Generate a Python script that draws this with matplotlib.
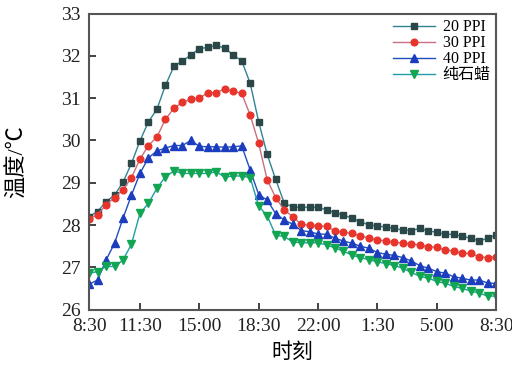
import numpy as np
import matplotlib
matplotlib.use("Agg")
import matplotlib.pyplot as plt

# time axis: hours after 8:30, one reading every half hour
hours = np.arange(0, 24.5, 0.5)
tick_pos = [0, 3, 6.5, 10, 13.5, 17, 20.5, 24]
tick_labels = ["8:30", "11:30", "15:00", "18:30", "22:00", "1:30", "5:00", "8:30"]

ppi20 = [28.2, 28.32, 28.55, 28.71, 29.01, 29.46, 29.99, 30.44, 30.74, 31.3,
         31.75, 31.88, 32.02, 32.17, 32.2, 32.25, 32.18, 32.02, 31.88, 31.35,
         30.44, 29.67, 29.08, 28.53, 28.42, 28.42, 28.42, 28.42, 28.36, 28.29,
         28.24, 28.16, 28.08, 28.0, 27.98, 27.95, 27.92, 27.88, 27.87, 27.92,
         27.86, 27.83, 27.78, 27.78, 27.73, 27.69, 27.62, 27.69, 27.77]
ppi30 = [28.15, 28.24, 28.48, 28.65, 28.83, 29.12, 29.56, 29.88, 30.08, 30.5,
         30.76, 30.9, 30.97, 31.0, 31.13, 31.13, 31.22, 31.16, 31.11, 30.6,
         29.93, 29.07, 28.65, 28.36, 28.2, 28.02, 27.99, 27.98, 27.97, 27.86,
         27.83, 27.8, 27.75, 27.69, 27.65, 27.62, 27.59, 27.57, 27.55, 27.53,
         27.49, 27.47, 27.41, 27.39, 27.33, 27.33, 27.25, 27.23, 27.25]
ppi40 = [26.6, 26.7, 27.17, 27.57, 28.16, 28.71, 29.22, 29.59, 29.75, 29.82,
         29.88, 29.88, 30.0, 29.86, 29.85, 29.85, 29.84, 29.85, 29.87, 29.3,
         28.72, 28.59, 28.27, 28.12, 28.02, 27.87, 27.84, 27.79, 27.78, 27.69,
         27.62, 27.57, 27.5, 27.45, 27.35, 27.31, 27.28, 27.23, 27.15, 27.04,
         26.98, 26.9, 26.86, 26.78, 26.74, 26.7, 26.7, 26.63, 26.62]
paraffin = [26.86, 26.9, 27.02, 27.02, 27.17, 27.55, 28.28, 28.51, 28.87, 29.14,
            29.28, 29.22, 29.22, 29.22, 29.22, 29.26, 29.13, 29.16, 29.16, 29.12,
            28.45, 28.22, 27.76, 27.73, 27.6, 27.58, 27.58, 27.58, 27.53, 27.46,
            27.38, 27.29, 27.23, 27.18, 27.13, 27.09, 27.04, 26.98, 26.88, 26.79,
            26.74, 26.67, 26.62, 26.55, 26.5, 26.44, 26.39, 26.32, 26.32]

plt.rcParams["font.family"] = ["Liberation Serif", "Noto Sans CJK SC"]

fig = plt.figure(figsize=(5.12, 3.66), dpi=100)
ax = fig.add_axes([0.174, 0.154, 0.795, 0.809])

series = [
    (ppi20, "20 PPI", "s", "#2f8494", "#2b4747", 4.4),
    (ppi30, "30 PPI", "o", "#c77080", "#e8352c", 4.8),
    (ppi40, "40 PPI", "^", "#1f4fbf", "#1c3dbd", 5.2),
    (paraffin, "纯石蜡", "v", "#1e9ea8", "#12a552", 5.2),
]
for vals, label, marker, lc, mc, ms in series:
    ax.plot(hours, vals, color=lc, lw=1.0, marker=marker, ms=ms,
            mfc=mc, mec=mc, label=label)

ax.set_xlim(0, 24)
ax.set_ylim(26, 33)
ax.set_xticks(tick_pos)
ax.set_xticklabels(tick_labels)
ax.set_yticks(range(26, 34))
ax.tick_params(direction="in", length=5, width=1.2, labelsize=14,
               colors="#222222")
ax.tick_params(axis="x", pad=6)
ax.tick_params(axis="y", pad=6)
for s in ax.spines.values():
    s.set_linewidth(1.5)
    s.set_color("#555555")

ax.set_xlabel("时刻", fontsize=15, labelpad=6)
ax.set_ylabel("温度/℃", fontsize=16, labelpad=24)

ax.legend(loc="upper right", frameon=False, fontsize=11.5, handlelength=2.6,
          labelspacing=0.0, handletextpad=0.5, borderaxespad=0.1,
          borderpad=0.25)

fig.savefig("out.png", dpi=100)
